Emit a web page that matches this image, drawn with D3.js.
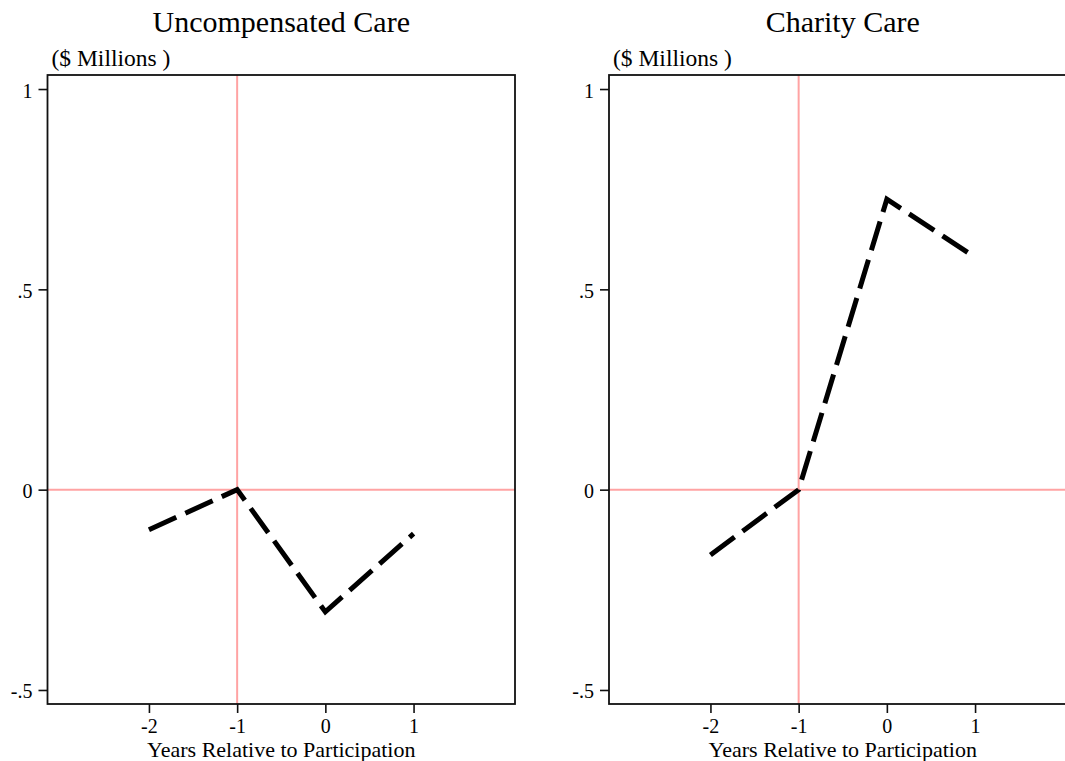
<!DOCTYPE html>
<html>
<head>
<meta charset="utf-8">
<script src="https://cdn.jsdelivr.net/npm/d3@7"></script>
<style>
  html, body { margin: 0; padding: 0; background: #fff; }
  svg { display: block; }
  text { font-family: "Liberation Serif", "Times New Roman", serif; fill: #000; }
</style>
</head>
<body>
<svg id="chart" width="1065" height="761"></svg>
<script>
// ---- data ----
const years = [-2, -1, 0, 1];
const uncompensated = [-0.10, 0, -0.305, -0.11];
const charity = [-0.163, 0, 0.725, 0.58];
const panelTitles = ["Uncompensated Care", "Charity Care"];
const yTickValues = [-0.5, 0, 0.5, 1];
const yTickLabels = ["-.5", "0", ".5", "1"];
const xTickValues = [-2, -1, 0, 1];
const xTickLabels = ["-2", "-1", "0", "1"];
const yUnitLabel = "($ Millions )";
const xAxisTitle = "Years Relative to Participation";
const refX = -1, refY = 0;

// ---- layout ----
const svg = d3.select("#chart");
const panels = [
  { title: panelTitles[0], values: uncompensated, left: 47.5, right: 515 },
  { title: panelTitles[1], values: charity, left: 609, right: 1076.5 }
];
const plotTop = 75, plotBottom = 704;
const xDomain = [-3.15, 2.15];
const yDomain = [-0.535, 1.035];

panels.forEach(p => {
  const x = d3.scaleLinear().domain(xDomain).range([p.left, p.right]);
  const y = d3.scaleLinear().domain(yDomain).range([plotBottom, plotTop]);
  const g = svg.append("g");

  // reference lines
  g.append("line")
    .attr("x1", x(refX)).attr("x2", x(refX))
    .attr("y1", plotTop).attr("y2", plotBottom)
    .attr("stroke", "#ffa3a3").attr("stroke-width", 2);
  g.append("line")
    .attr("x1", p.left).attr("x2", p.right)
    .attr("y1", y(refY)).attr("y2", y(refY))
    .attr("stroke", "#ffa3a3").attr("stroke-width", 2);

  // data line
  const line = d3.line().x((d, i) => x(years[i])).y(d => y(d));
  g.append("path")
    .datum(p.values)
    .attr("d", line)
    .attr("fill", "none")
    .attr("stroke", "#000")
    .attr("stroke-width", 5)
    .attr("stroke-dasharray", "30,10")
    .attr("stroke-linejoin", "miter")
    .attr("stroke-linecap", "butt");

  // frame
  g.append("rect")
    .attr("x", p.left).attr("y", plotTop)
    .attr("width", p.right - p.left).attr("height", plotBottom - plotTop)
    .attr("fill", "none").attr("stroke", "#111").attr("stroke-width", 1.8);

  // y axis
  const yAxis = d3.axisLeft(y).tickValues(yTickValues)
    .tickFormat((d, i) => yTickLabels[i]).tickSize(9).tickPadding(6);
  const ya = g.append("g").attr("transform", `translate(${p.left},0)`).call(yAxis);
  ya.select(".domain").remove();
  ya.selectAll("line").attr("stroke", "#111").attr("stroke-width", 1.6);
  ya.selectAll("text").attr("font-size", 20)
    .style("font-family", '"Liberation Serif", serif').attr("dy", "0.4em");

  // x axis
  const xAxis = d3.axisBottom(x).tickValues(xTickValues)
    .tickFormat((d, i) => xTickLabels[i]).tickSize(9).tickPadding(6);
  const xa = g.append("g").attr("transform", `translate(0,${plotBottom})`).call(xAxis);
  xa.select(".domain").remove();
  xa.selectAll("line").attr("stroke", "#111").attr("stroke-width", 1.6);
  xa.selectAll("text").attr("font-size", 20)
    .style("font-family", '"Liberation Serif", serif');

  // titles
  g.append("text")
    .attr("x", (p.left + p.right) / 2).attr("y", 32)
    .attr("text-anchor", "middle").attr("font-size", 30)
    .text(p.title);
  g.append("text")
    .attr("x", p.left + 4).attr("y", 66)
    .attr("font-size", 23.5)
    .text(yUnitLabel);
  g.append("text")
    .attr("x", x(-0.5)).attr("y", 757)
    .attr("text-anchor", "middle").attr("font-size", 22)
    .text(xAxisTitle);
});
</script>
</body>
</html>
